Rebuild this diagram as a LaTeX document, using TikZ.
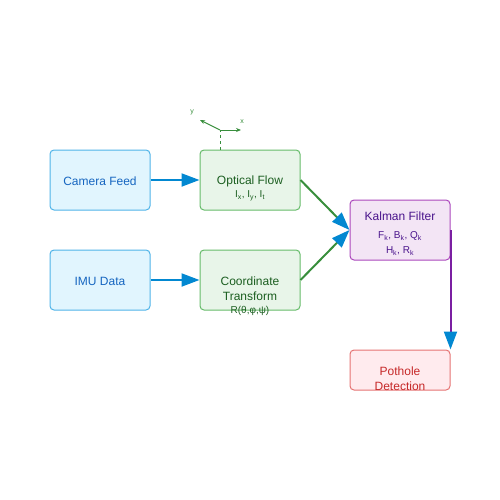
\documentclass[tikz,border=0pt]{standalone}
\usepackage{fontspec}
\setmainfont{Liberation Sans}
\usetikzlibrary{arrows.meta}
\definecolor{camfill}{HTML}{E1F5FE}
\definecolor{camline}{HTML}{4FB3E8}
\definecolor{camtext}{HTML}{1565C0}
\definecolor{flowfill}{HTML}{E8F5E9}
\definecolor{flowline}{HTML}{66BB6A}
\definecolor{flowtext}{HTML}{1B5E20}
\definecolor{kalfill}{HTML}{F3E5F5}
\definecolor{kalline}{HTML}{AB47BC}
\definecolor{kaltext}{HTML}{4A148C}
\definecolor{potfill}{HTML}{FFEBEE}
\definecolor{potline}{HTML}{E57373}
\definecolor{pottext}{HTML}{C62828}
\definecolor{headblue}{HTML}{0288D1}
\definecolor{pathgreen}{HTML}{388E3C}
\definecolor{pathpurple}{HTML}{7B1FA2}
\tikzset{
  box/.style={draw, rounded corners=4pt, line width=1pt, minimum width=100pt, minimum height=60pt, inner sep=0pt},
  head/.style={-{Triangle[length=18pt,width=13pt,color=headblue]}, line width=2pt}
}
\newcommand{\sub}[2]{#1\textsubscript{#2}}
\begin{document}
\begin{tikzpicture}[x=1pt,y=-1pt]
\useasboundingbox (0,0) rectangle (500,500);
\node[box, draw=camline, fill=camfill] (cam) at (100,180) {};
\node[box, draw=camline, fill=camfill] (imu) at (100,280) {};
\node[box, draw=flowline, fill=flowfill] (flow) at (250,180) {};
\node[box, draw=flowline, fill=flowfill] (coord) at (250,280) {};
\node[box, draw=kalline, fill=kalfill] (kal) at (400,230) {};
\node[box, draw=potline, fill=potfill, minimum height=40pt] (pot) at (400,370) {};
% texts
\node[text=camtext, font=\fontsize{12}{14}\selectfont] (camt) at (100,181) {Camera Feed};
\node[text=camtext, font=\fontsize{12}{14}\selectfont] (imut) at (100,281) {IMU Data};
\node[text=flowtext, font=\fontsize{12}{14}\selectfont] (flowt) at (250,181) {Optical Flow};
\node[text=flowtext, font=\fontsize{10}{12}\selectfont] (flows) at (250,196) {\sub{I}{x}, \sub{I}{y}, \sub{I}{t}};
\node[text=flowtext, font=\fontsize{12}{14}\selectfont] (coordt) at (250,281) {Coordinate};
\node[text=flowtext, font=\fontsize{12}{14}\selectfont] (coordu) at (250,296) {Transform};
\node[text=flowtext, font=\fontsize{10}{12}\selectfont] (coords) at (250,311) {R(θ,φ,ψ)};
\node[text=kaltext, font=\fontsize{12}{14}\selectfont] (kalt) at (400,216) {Kalman Filter};
\node[text=kaltext, font=\fontsize{10}{12}\selectfont] (kals) at (400,236) {\sub{F}{k}, \sub{B}{k}, \sub{Q}{k}};
\node[text=kaltext, font=\fontsize{10}{12}\selectfont] (kalu) at (400,251) {\sub{H}{k}, \sub{R}{k}};
\node[text=pottext, font=\fontsize{12}{14}\selectfont] (pott) at (400,371) {Pothole};
\node[text=pottext, font=\fontsize{12}{14}\selectfont] (potu) at (400,386) {Detection};
% flow axes
\coordinate (orig) at (220,130);
\coordinate (xend) at (241,130);
\coordinate (yend) at (200,120);
\draw[pathgreen, dashed, line width=1pt] (flow.north -| orig) -- (orig);
\draw[pathgreen, -{Stealth[length=5pt,width=4pt]}, line width=1pt] (orig) -- (xend);
\draw[pathgreen, -{Stealth[length=5pt,width=4pt]}, line width=1pt] (orig) -- (yend);
\node[text=pathgreen, font=\fontsize{7}{8}\selectfont] (xl) at (242,122) {x};
\node[text=pathgreen, font=\fontsize{7}{8}\selectfont] (yl) at (192,112) {y};
% connectors
\draw[head, headblue] (cam.east) -- (flow.west);
\draw[head, headblue] (imu.east) -- (coord.west);
\draw[head, pathgreen] (flow.east) -- (kal.west);
\draw[head, pathgreen] (coord.east) -- (kal.west);
\draw[head, pathpurple] (kal.east) -- (pot.north -| kal.east);
\end{tikzpicture}
\end{document}
